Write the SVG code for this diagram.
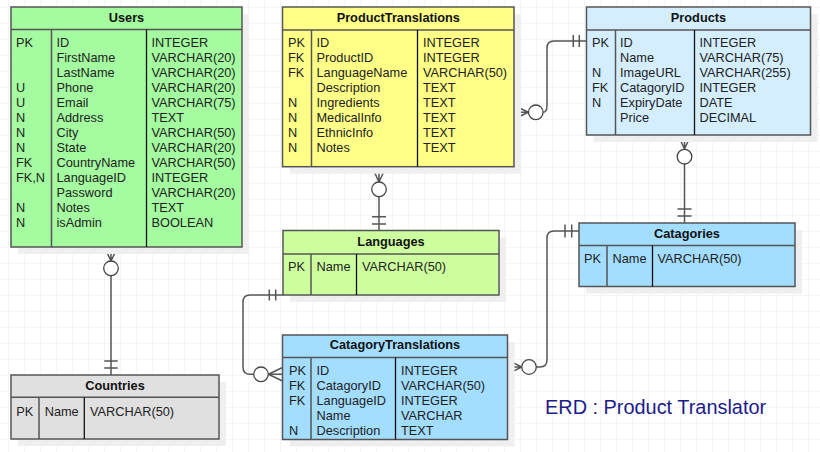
<svg xmlns="http://www.w3.org/2000/svg" width="820" height="452" viewBox="0 0 820 452">
<defs>
<pattern id="grid" x="9" y="8" width="16" height="16" patternUnits="userSpaceOnUse">
<path d="M16 0 V16 M0 16 H16" fill="none" stroke="#ebebeb" stroke-width="1"/>
</pattern>
<style>
text{font-family:"Liberation Sans",Arial,sans-serif;font-size:12.75px;fill:#222}
.h{font-weight:bold;text-anchor:middle;fill:#111}
.sh{fill:#efefef}
.box{stroke:#555;stroke-width:1.5}
.d1{stroke:#555;stroke-width:1.5}
.d2{stroke:#111;stroke-width:1.3}
.c{fill:none;stroke:#555;stroke-width:1.5}
.o{fill:#fff;stroke:#444;stroke-width:1.3}
.t{font-size:19.9px;fill:#1c1c8a}
</style>
</defs>
<rect width="820" height="452" fill="#fff"/>
<rect width="820" height="452" fill="url(#grid)"/>

<g id="connectors">
<!-- Users - Countries -->
<path class="c" d="M104.3 247 L111 261 L117.7 247 M111 247 V261 M111 275.6 V375 M104.3 361 H117.7 M104.3 368 H117.7"/>
<circle class="o" cx="111" cy="268.3" r="7.3"/>
<!-- ProductTranslations - Languages -->
<path class="c" d="M372 167 L379 182 L386 167 M379 167 V182 M379 196.6 V230.5 M372 216.7 H386 M372 224 H386"/>
<circle class="o" cx="379" cy="189.3" r="7.3"/>
<!-- ProductTranslations - Products -->
<path class="c" d="M514 105.5 L528.5 112.3 L514 119 M514 112.3 H528.5 M543.1 112.3 Q547 112.3 547 105 V48 Q547 41 554 41 H586.5 M573.3 35 V47 M579.3 35 V47"/>
<circle class="o" cx="535.8" cy="112.3" r="7.3"/>
<!-- Products - Catagories -->
<path class="c" d="M678 135 L684.5 149 L691 135 M684.5 135 V149 M684.5 164 V223 M677.5 209 H691.5 M677.5 216 H691.5"/>
<circle class="o" cx="684.5" cy="156.7" r="7.3"/>
<!-- CatagoryTranslations - Catagories -->
<path class="c" d="M507.5 360 L521.7 367 L507.5 374 M507.5 367 H521.7 M536.3 367 H540 Q547 367 547 360 V238 Q547 231 554 231 H579 M565 224.5 V237.5 M571.7 224.5 V237.5"/>
<circle class="o" cx="529" cy="367" r="7.3"/>
<!-- Languages - CatagoryTranslations -->
<path class="c" d="M283 295 H250 Q243 295 243 302 V367 Q243 374.3 250 374.3 H253.7 M282.5 367.5 L268.3 374.3 L282.5 381 M268.3 374.3 H282.5 M269.3 289.5 V300.5 M275.7 289.5 V300.5"/>
<circle class="o" cx="261" cy="374.3" r="7.3"/>
</g>

<g id="Users">
<rect class="sh" x="18" y="14" width="231" height="240"/>
<rect class="box" x="11" y="7" width="231" height="240" fill="#a4fba0"/>
<line class="box" x1="11" y1="29.5" x2="242" y2="29.5"/>
<line class="d1" x1="51.5" y1="29.5" x2="51.5" y2="247"/>
<line class="d2" x1="146.5" y1="29.5" x2="146.5" y2="247"/>
<text class="h" x="126.5" y="21.7">Users</text>
<text x="16" y="46.7">PK</text><text x="56.5" y="46.7">ID</text><text x="151.5" y="46.7">INTEGER</text>
<text x="56.5" y="61.7">FirstName</text><text x="151.5" y="61.7">VARCHAR(20)</text>
<text x="56.5" y="76.7">LastName</text><text x="151.5" y="76.7">VARCHAR(20)</text>
<text x="16" y="91.7">U</text><text x="56.5" y="91.7">Phone</text><text x="151.5" y="91.7">VARCHAR(20)</text>
<text x="16" y="106.7">U</text><text x="56.5" y="106.7">Email</text><text x="151.5" y="106.7">VARCHAR(75)</text>
<text x="16" y="121.7">N</text><text x="56.5" y="121.7">Address</text><text x="151.5" y="121.7">TEXT</text>
<text x="16" y="136.7">N</text><text x="56.5" y="136.7">City</text><text x="151.5" y="136.7">VARCHAR(50)</text>
<text x="16" y="151.7">N</text><text x="56.5" y="151.7">State</text><text x="151.5" y="151.7">VARCHAR(20)</text>
<text x="16" y="166.7">FK</text><text x="56.5" y="166.7">CountryName</text><text x="151.5" y="166.7">VARCHAR(50)</text>
<text x="16" y="181.7">FK,N</text><text x="56.5" y="181.7">LanguageID</text><text x="151.5" y="181.7">INTEGER</text>
<text x="56.5" y="196.7">Password</text><text x="151.5" y="196.7">VARCHAR(20)</text>
<text x="16" y="211.7">N</text><text x="56.5" y="211.7">Notes</text><text x="151.5" y="211.7">TEXT</text>
<text x="16" y="226.7">N</text><text x="56.5" y="226.7">isAdmin</text><text x="151.5" y="226.7">BOOLEAN</text>
</g>

<g id="ProductTranslations">
<rect class="sh" x="289.5" y="14" width="231.5" height="159.7"/>
<rect class="box" x="282.5" y="7" width="231.5" height="159.7" fill="#ffff88"/>
<line class="box" x1="282.5" y1="30" x2="514" y2="30"/>
<line class="d1" x1="311.5" y1="30" x2="311.5" y2="166.7"/>
<line class="d2" x1="417.5" y1="30" x2="417.5" y2="166.7"/>
<text class="h" x="398.3" y="21.7">ProductTranslations</text>
<text x="288" y="46.7">PK</text><text x="316.5" y="46.7">ID</text><text x="423" y="46.7">INTEGER</text>
<text x="288" y="61.7">FK</text><text x="316.5" y="61.7">ProductID</text><text x="423" y="61.7">INTEGER</text>
<text x="288" y="76.7">FK</text><text x="316.5" y="76.7">LanguageName</text><text x="423" y="76.7">VARCHAR(50)</text>
<text x="316.5" y="91.7">Description</text><text x="423" y="91.7">TEXT</text>
<text x="288" y="106.7">N</text><text x="316.5" y="106.7">Ingredients</text><text x="423" y="106.7">TEXT</text>
<text x="288" y="121.7">N</text><text x="316.5" y="121.7">MedicalInfo</text><text x="423" y="121.7">TEXT</text>
<text x="288" y="136.7">N</text><text x="316.5" y="136.7">EthnicInfo</text><text x="423" y="136.7">TEXT</text>
<text x="288" y="151.7">N</text><text x="316.5" y="151.7">Notes</text><text x="423" y="151.7">TEXT</text>
</g>

<g id="Products">
<rect class="sh" x="593.5" y="14" width="224" height="128"/>
<rect class="box" x="586.5" y="7" width="224" height="128" fill="#d4eeff"/>
<line class="box" x1="586.5" y1="30" x2="810.5" y2="30"/>
<line class="d1" x1="615.5" y1="30" x2="615.5" y2="135"/>
<line class="d2" x1="694.5" y1="30" x2="694.5" y2="135"/>
<text class="h" x="698.5" y="21.7">Products</text>
<text x="592" y="46.7">PK</text><text x="620" y="46.7">ID</text><text x="699.5" y="46.7">INTEGER</text>
<text x="620" y="61.7">Name</text><text x="699.5" y="61.7">VARCHAR(75)</text>
<text x="592" y="76.7">N</text><text x="620" y="76.7">ImageURL</text><text x="699.5" y="76.7">VARCHAR(255)</text>
<text x="592" y="91.7">FK</text><text x="620" y="91.7">CatagoryID</text><text x="699.5" y="91.7">INTEGER</text>
<text x="592" y="106.7">N</text><text x="620" y="106.7">ExpiryDate</text><text x="699.5" y="106.7">DATE</text>
<text x="620" y="121.7">Price</text><text x="699.5" y="121.7">DECIMAL</text>
</g>

<g id="Languages">
<rect class="sh" x="290" y="237.5" width="216" height="64.5"/>
<rect class="box" x="283" y="230.5" width="216" height="64.5" fill="#ceff9e"/>
<line class="box" x1="283" y1="254" x2="499" y2="254"/>
<line class="d1" x1="311" y1="254" x2="311" y2="295"/>
<line class="d2" x1="356.5" y1="254" x2="356.5" y2="295"/>
<text class="h" x="391" y="246">Languages</text>
<text x="288" y="271">PK</text><text x="316.5" y="271">Name</text><text x="362" y="271">VARCHAR(50)</text>
</g>

<g id="Catagories">
<rect class="sh" x="586" y="230" width="216" height="63.5"/>
<rect class="box" x="579" y="223" width="216" height="63.5" fill="#a3ddff"/>
<line class="box" x1="579" y1="245.5" x2="795" y2="245.5"/>
<line class="d1" x1="607" y1="245.5" x2="607" y2="286.5"/>
<line class="d2" x1="652.5" y1="245.5" x2="652.5" y2="286.5"/>
<text class="h" x="687" y="237.7">Catagories</text>
<text x="584" y="263.3">PK</text><text x="612.5" y="263.3">Name</text><text x="657.5" y="263.3">VARCHAR(50)</text>
</g>

<g id="CatagoryTranslations">
<rect class="sh" x="289.5" y="342" width="225" height="104.5"/>
<rect class="box" x="282.5" y="335" width="225" height="104.5" fill="#a3ddff"/>
<line class="box" x1="282.5" y1="357.5" x2="507.5" y2="357.5"/>
<line class="d1" x1="311" y1="357.5" x2="311" y2="439.5"/>
<line class="d2" x1="395.5" y1="357.5" x2="395.5" y2="439.5"/>
<text class="h" x="395" y="349">CatagoryTranslations</text>
<text x="289" y="375">PK</text><text x="316.5" y="375">ID</text><text x="401" y="375">INTEGER</text>
<text x="289" y="390">FK</text><text x="316.5" y="390">CatagoryID</text><text x="401" y="390">VARCHAR(50)</text>
<text x="289" y="405">FK</text><text x="316.5" y="405">LanguageID</text><text x="401" y="405">INTEGER</text>
<text x="316.5" y="420">Name</text><text x="401" y="420">VARCHAR</text>
<text x="289" y="435">N</text><text x="316.5" y="435">Description</text><text x="401" y="435">TEXT</text>
</g>

<g id="Countries">
<rect class="sh" x="18" y="382" width="208" height="64"/>
<rect class="box" x="11" y="375" width="208" height="64" fill="#e0e0e0"/>
<line class="box" x1="11" y1="397.3" x2="219" y2="397.3"/>
<line class="d1" x1="39" y1="397.3" x2="39" y2="439"/>
<line class="d2" x1="84.3" y1="397.3" x2="84.3" y2="439"/>
<text class="h" x="115" y="390">Countries</text>
<text x="16.3" y="416">PK</text><text x="44.7" y="416">Name</text><text x="90" y="416">VARCHAR(50)</text>
</g>

<text class="t" x="545" y="414">ERD : Product Translator</text>
</svg>
